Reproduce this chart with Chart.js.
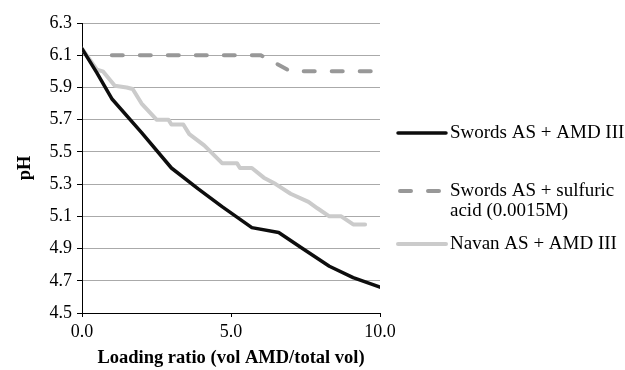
<!DOCTYPE html>
<html lang="en">
  <head>
    <meta charset="UTF-8" />
    <title>pH vs loading ratio</title>
    <script src="https://cdn.jsdelivr.net/npm/chart.js"></script>
    <style>
      html,
      body {
        margin: 0;
        padding: 0;
        background: #ffffff;
      }
      #wrap {
        width: 625px;
        height: 370px;
      }
    </style>
  </head>
  <body>
    <div id="wrap">
      <canvas id="phChart" width="625" height="370"></canvas>
    </div>

    <script>
      // Swords AS + AMD III
      const swordsAmdX = [0, 0.5, 1.0, 2.0, 3.0, 3.9, 4.7, 5.7, 6.6, 7.4, 8.3, 9.1, 10.0];
      const swordsAmdPH = [6.14, 5.99, 5.83, 5.62, 5.40, 5.27, 5.16, 5.03, 5.0, 4.9, 4.79, 4.72, 4.66];

      // Swords AS + sulfuric acid (0.0015M)
      const swordsAcidX = [1, 2, 3, 4, 5, 6, 7, 8, 9, 10];
      const swordsAcidPH = [6.1, 6.1, 6.1, 6.1, 6.1, 6.1, 6.0, 6.0, 6.0, 6.0];

      // Navan AS + AMD III
      const navanX = [0, 0.5, 0.7, 1.1, 1.5, 1.7, 2.0, 2.4, 2.5, 2.9, 3.0, 3.4, 3.6, 4.1, 4.7, 5.2, 5.3, 5.7, 6.1, 6.5, 7.0, 7.6, 7.9, 8.3, 8.7, 9.1, 9.5];
      const navanPH = [6.14, 6.01, 6.0, 5.91, 5.9, 5.89, 5.8, 5.72, 5.7, 5.7, 5.67, 5.67, 5.61, 5.54, 5.43, 5.43, 5.4, 5.4, 5.34, 5.3, 5.24, 5.19, 5.15, 5.1, 5.1, 5.05, 5.05];

      const legendLabels = [
        ["Swords AS + AMD III"],
        ["Swords AS + sulfuric", "acid (0.0015M)"],
        ["Navan AS + AMD III"],
      ];

      const SERIF = "'Liberation Serif', 'Times New Roman', serif";

      function toPoints(xs, ys) {
        return xs.map((x, i) => ({ x: x, y: ys[i] }));
      }

      // legend on the right, drawn by hand because of the two-line label
      const sideLegend = {
        id: "sideLegend",
        afterDraw(chart) {
          const ctx = chart.ctx;
          const area = chart.chartArea;
          const rowY = [133, 191, 244];
          const x0 = area.right + 18;
          const x1 = area.right + 66;
          const tx = area.right + 70;
          ctx.save();
          chart.data.datasets.forEach((ds, i) => {
            const y = rowY[i];
            ctx.beginPath();
            ctx.strokeStyle = ds.borderColor;
            ctx.lineWidth = ds.borderWidth;
            ctx.lineCap = ds.borderCapStyle || "butt";
            ctx.setLineDash(ds.borderDash || []);
            ctx.moveTo(x0 + (ds.borderDash ? 2 : 0), y);
            ctx.lineTo(x1, y);
            ctx.stroke();
            ctx.setLineDash([]);
            ctx.fillStyle = "#000000";
            ctx.font = "19px " + SERIF;
            ctx.textBaseline = "middle";
            ctx.textAlign = "left";
            legendLabels[i].forEach((line, j) => {
              ctx.fillText(line, tx, y + j * 20);
            });
          });
          ctx.restore();
        },
      };

      new Chart(document.getElementById("phChart"), {
        type: "line",
        data: {
          datasets: [
            {
              label: legendLabels[0].join(" "),
              data: toPoints(swordsAmdX, swordsAmdPH),
              borderColor: "#0d0d0d",
              borderWidth: 3.5,
              borderCapStyle: "round",
              borderJoinStyle: "round",
            },
            {
              label: legendLabels[1].join(" "),
              data: toPoints(swordsAcidX, swordsAcidPH),
              borderColor: "#989898",
              borderWidth: 4,
              borderDash: [11, 17],
              borderCapStyle: "round",
            },
            {
              label: legendLabels[2].join(" "),
              data: toPoints(navanX, navanPH),
              borderColor: "#cbcbcb",
              borderWidth: 4,
              borderCapStyle: "round",
              borderJoinStyle: "round",
            },
          ],
        },
        options: {
          responsive: false,
          animation: false,
          devicePixelRatio: 1,
          elements: {
            point: { radius: 0 },
            line: { tension: 0 },
          },
          layout: {
            padding: { left: 10, right: 245, top: 23, bottom: 0 },
          },
          plugins: {
            legend: { display: false },
            tooltip: { enabled: false },
          },
          scales: {
            x: {
              type: "linear",
              min: 0,
              max: 10,
              afterFit(scale) {
                scale.height = 57;
              },
              ticks: {
                stepSize: 5,
                padding: 4,
                color: "#000000",
                font: { family: SERIF, size: 18 },
                callback: (v) => v.toFixed(1),
              },
              grid: {
                drawOnChartArea: false,
                tickLength: 4,
                color: "#000000",
              },
              border: { color: "#000000", width: 1 },
              title: {
                display: true,
                text: "Loading ratio (vol AMD/total vol)",
                color: "#000000",
                font: { family: SERIF, size: 18.5, weight: "bold" },
                padding: { top: 0, bottom: 1 },
              },
            },
            y: {
              min: 4.5,
              max: 6.3,
              afterFit(scale) {
                scale.width = 72;
              },
              ticks: {
                stepSize: 0.2,
                autoSkip: false,
                padding: 5,
                color: "#000000",
                font: { family: SERIF, size: 18 },
                callback: (v) => v.toFixed(1),
              },
              grid: {
                color: "#aaaaaa",
                tickColor: "#000000",
                tickLength: 5,
              },
              border: { color: "#000000", width: 1 },
              title: {
                display: true,
                text: "pH",
                color: "#000000",
                font: { family: SERIF, size: 18.5, weight: "bold" },
                padding: { top: 4, bottom: 0 },
              },
            },
          },
        },
        plugins: [sideLegend],
      });
    </script>
  </body>
</html>
